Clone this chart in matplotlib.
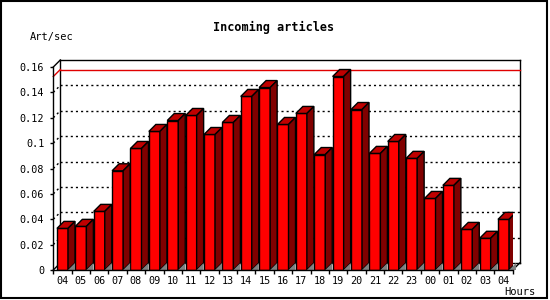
import matplotlib
matplotlib.use("Agg")
import matplotlib.pyplot as plt
from matplotlib.patches import Polygon, Rectangle

# Incoming articles per hour
hours = ['04', '05', '06', '07', '08', '09', '10', '11', '12', '13', '14', '15', '16',
         '17', '18', '19', '20', '21', '22', '23', '00', '01', '02', '03', '04']
rates = [0.0328, 0.0344, 0.0462, 0.0782, 0.0958, 0.1092, 0.1178, 0.1218, 0.1068,
         0.1163, 0.1368, 0.1438, 0.1147, 0.1234, 0.0910, 0.1525, 0.1265, 0.0919,
         0.1013, 0.0880, 0.0564, 0.0667, 0.0320, 0.0250, 0.0399]
yticks = [0, 0.02, 0.04, 0.06, 0.08, 0.1, 0.12, 0.14, 0.16]

W, H = 550, 300
plt.rcParams['font.family'] = 'DejaVu Sans Mono'
fig = plt.figure(figsize=(W / 100, H / 100), dpi=100)
fig.patch.set_facecolor('white')

# front plane of the 3d box, in pixels
left, right, bottom, top = 53.3, 512.7, 270, 67
ax = fig.add_axes([left / W, 1 - bottom / H, (right - left) / W, (bottom - top) / H])
ax.set_xlim(-0.5, len(rates) - 0.5)
ax.set_ylim(0, 0.16)
ax.set_facecolor('none')

# depth of 7 px converted to data units
depth = 7
dx = depth * (len(rates)) / (right - left)
dy = depth * 0.16 / (bottom - top)
x0, x1 = -0.5, len(rates) - 0.5
ymax = 0.16

line_kw = dict(color='black', lw=1, clip_on=False, zorder=1)
# back box edges
ax.plot([x0 + dx, x1 + dx], [ymax + dy, ymax + dy], **line_kw)
ax.plot([x0 + dx, x0 + dx], [dy, ymax + dy], **line_kw)
ax.plot([x1 + dx, x1 + dx], [dy, ymax + dy], **line_kw)
ax.plot([x0 + dx, x1 + dx], [dy, dy], **line_kw)
ax.plot([x0, x0 + dx], [ymax, ymax + dy], **line_kw)
ax.plot([x1, x1 + dx], [0, dy], **line_kw)
ax.plot([x0, x0 + dx], [0, dy], **line_kw)

# dotted grid on the back wall
for v in yticks[1:-1]:
    ax.plot([x0 + dx, x1 + dx], [v + dy, v + dy], color='black', lw=1,
            ls=(0, (1.5, 2.2)), clip_on=False, zorder=1)
    ax.plot([x0, x0 + dx], [v, v + dy], color='black', lw=1,
            ls=(0, (1.5, 2.2)), clip_on=False, zorder=1)

# max line
m = max(rates)
ax.plot([x0 + dx, x1 + dx], [m + dy, m + dy], color='#e00000', lw=1, clip_on=False, zorder=1.5)
ax.plot([x0, x0 + dx], [m, m + dy], color='#e00000', lw=1, clip_on=False, zorder=1.5)

# bars
w = 0.6
xs = list(range(len(rates)))
ax.bar(xs, rates, width=w, color='#ff0000', edgecolor='black', linewidth=1, zorder=3)
for x, v in zip(xs, rates):
    xl, xr = x - w / 2, x + w / 2
    ax.add_patch(Polygon([(xl, v), (xr, v), (xr + dx, v + dy), (xl + dx, v + dy)],
                         closed=True, facecolor='#c00000', edgecolor='black', lw=1, zorder=3))
    ax.add_patch(Polygon([(xr, 0), (xr + dx, dy), (xr + dx, v + dy), (xr, v)],
                         closed=True, facecolor='#800000', edgecolor='black', lw=1, zorder=3))
    ax.add_patch(Polygon([(xr, 0), (xr + dx, dy), (xr + dx, 0)],
                         closed=True, facecolor='#808080', edgecolor='none', zorder=3,
                         clip_on=False))

# axes
for s in ['top', 'right']:
    ax.spines[s].set_visible(False)
ax.spines['left'].set_linewidth(1)
ax.spines['bottom'].set_linewidth(1)
ax.spines['left'].set_zorder(4)
ax.spines['bottom'].set_zorder(4)
ax.set_yticks(yticks)
ax.set_yticklabels(['%g' % t for t in yticks])
ax.set_xticks(xs)
ax.set_xticklabels(hours)
ax.set_xticks([i - 0.5 for i in range(len(rates) + 1)], minor=True)
ax.tick_params(axis='x', which='major', length=0, pad=4, labelsize=7.3)
ax.tick_params(axis='x', which='minor', length=3, width=1, direction='out')
ax.tick_params(axis='y', length=2.5, width=1, pad=4, labelsize=7.3)

fig.text(274 / W, 1 - 27 / H, 'Incoming articles', ha='center', va='center',
         fontsize=8.5, fontweight='bold')
fig.text(30 / W, 1 - 37 / H, 'Art/sec', ha='left', va='center', fontsize=7.5)
fig.text(504 / W, 1 - 292 / H, 'Hours', ha='left', va='center', fontsize=7.5)

# outer frame
fig.add_artist(Rectangle((0.8 / W, 2 / H), 546.5 / W, 297.2 / H, transform=fig.transFigure,
                         fill=False, edgecolor='black', lw=1.5))

fig.savefig('out.png', dpi=100)
